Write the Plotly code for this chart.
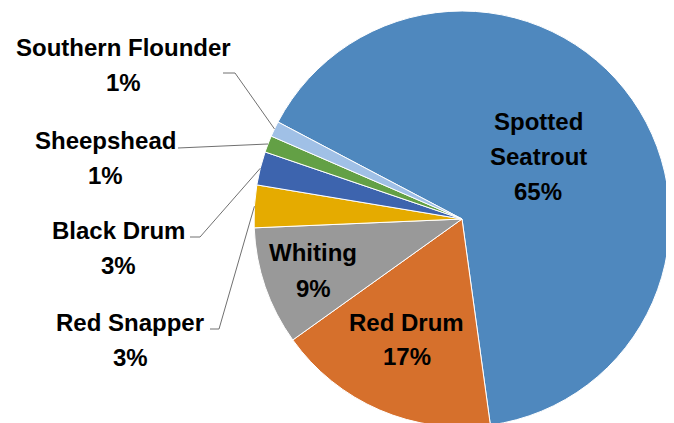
import math
import plotly.graph_objects as go

species = ["Spotted Seatrout", "Red Drum", "Whiting", "Red Snapper",
           "Black Drum", "Sheepshead", "Southern Flounder"]
shares = [65.1, 17.3, 9.2, 3.3, 2.6, 1.3, 1.2]
pct_labels = ["65%", "17%", "9%", "3%", "3%", "1%", "1%"]
colors = ["#4F88BE", "#D6702C", "#999999", "#E5AB00",
          "#3D64AE", "#63A045", "#A0C0E6"]

W, H = 674, 423
OFF = 8  # page body margin
R = 208.0
CX = 462.0 - OFF
CY = 219.0 - OFF
ROT = 297.8

fig = go.Figure(go.Pie(
    labels=species, values=shares, sort=False, direction="clockwise",
    rotation=ROT, textinfo="none", hoverinfo="label+percent",
    marker=dict(colors=colors, line=dict(color="white", width=1)),
    domain=dict(x=[(CX - R) / W, (CX + R) / W],
                y=[1 - (CY + R) / H, 1 - (CY - R) / H]),
    showlegend=False,
))

def px(x, y):
    # x, y given in screen pixels
    return (x - OFF) / W, 1 - (y - OFF) / H

font = dict(family="Liberation Sans", size=24, color="black")
ann = []
def label(text, x, y):
    xp, yp = px(x, y)
    ann.append(dict(text="<b>%s</b>" % text, x=xp, y=yp, xref="paper", yref="paper",
                    showarrow=False, xanchor="center", yanchor="middle", font=font))

# inside labels
label("Spotted", 538, 122); label("Seatrout", 538, 157); label(pct_labels[0], 538, 192)
label("Red Drum", 407, 322); label(pct_labels[1], 407, 356)
label("Whiting", 313, 253); label(pct_labels[2], 313, 288)
# outside labels
label("Southern Flounder", 123, 47); label(pct_labels[6], 123, 82)
label("Sheepshead", 105, 140); label(pct_labels[5], 105, 175)
label("Black Drum", 118, 230); label(pct_labels[4], 118, 265)
label("Red Snapper", 130, 322); label(pct_labels[3], 130, 357)

# leader lines to slice mid-angles
total = sum(shares)
mids = []
a = ROT
for v in shares:
    span = v / total * 360
    mids.append(a + span / 2)
    a += span

def edge(i):
    t = math.radians(mids[i])
    return CX + OFF + R * math.sin(t), CY + OFF - R * math.cos(t)

leaders = {6: [(223, 73), (235, 73)], 5: [(178, 148)],
           4: [(190, 237), (200, 237)], 3: [(210, 329), (219, 329)]}
shapes = []
for i, pts in leaders.items():
    pts = pts + [edge(i)]
    path = "M " + " L ".join("%.4f,%.4f" % px(x, y) for x, y in pts)
    shapes.append(dict(type="path", path=path, xref="paper", yref="paper",
                       line=dict(color="#707070", width=1)))

fig.update_layout(width=W, height=H, autosize=False,
                  margin=dict(l=0, r=0, t=0, b=0),
                  paper_bgcolor="white", plot_bgcolor="white",
                  annotations=ann, shapes=shapes)
fig.write_html("out.html")
